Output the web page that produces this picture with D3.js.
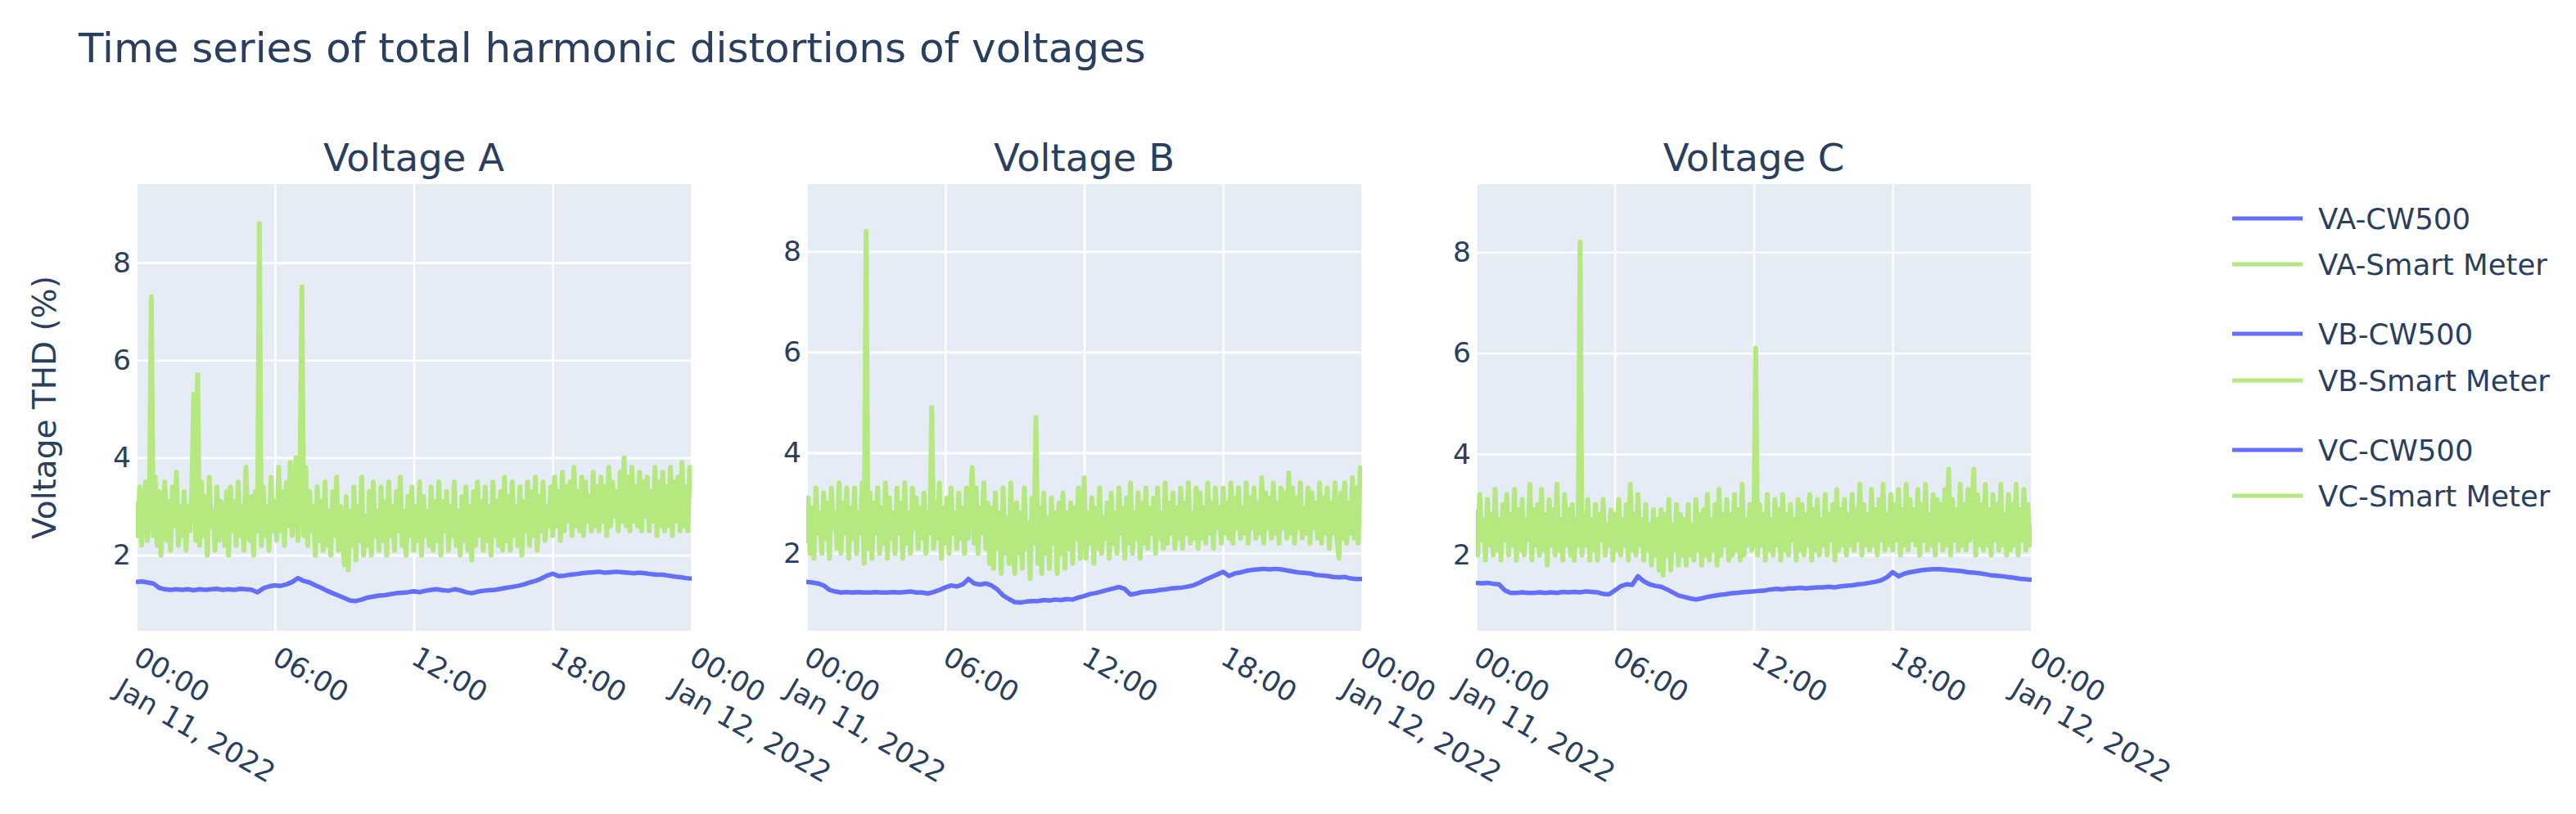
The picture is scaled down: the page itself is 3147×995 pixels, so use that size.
<!DOCTYPE html>
<html><head><meta charset="utf-8">
<script src="https://cdn.jsdelivr.net/npm/d3@7"></script>
<style>
body{margin:0;background:#fff}
svg text{font-family:Verdana,"DejaVu Sans",sans-serif;fill:#2a3f5f}
</style>
</head><body>
<svg id="chart" width="3147" height="995"></svg>
<script>
// ---------------- DATA ----------------
const chartTitle = "Time series of total harmonic distortions of voltages";
const panelTitles = ["Voltage A", "Voltage B", "Voltage C"];
const yAxisTitle = "Voltage THD (%)";
const legendNames = [["VA-CW500", "VA-Smart Meter"], ["VB-CW500", "VB-Smart Meter"], ["VC-CW500", "VC-Smart Meter"]];
const startTime = new Date(2022, 0, 11, 0, 0);
const endTime = new Date(2022, 0, 12, 0, 0);
const smStepMinutes = 5;   // Smart Meter sampling
const cwStepMinutes = 15;  // CW500 sampling
const xTickHours = [0, 6, 12, 18, 24];
const yTickValues = [2, 4, 6, 8];
const yRanges = [[0.45, 9.61], [0.46, 9.34], [0.5, 9.35]];

const cwA = [1.45,1.46,1.44,1.42, 1.33,1.30,1.29,1.30, 1.29,1.30,1.28,1.30, 1.29,1.30,1.31,1.29,
 1.30,1.29,1.31,1.30, 1.29,1.24,1.32,1.36, 1.38,1.37,1.40,1.45, 1.53,1.47,1.44,1.38,
 1.33,1.27,1.22,1.17, 1.12,1.07,1.06,1.09, 1.13,1.15,1.17,1.18, 1.20,1.22,1.23,1.24,
 1.26,1.24,1.27,1.29, 1.30,1.28,1.27,1.30, 1.28,1.24,1.22,1.25, 1.27,1.28,1.29,1.31,
 1.33,1.35,1.37,1.40, 1.44,1.47,1.52,1.58, 1.62,1.57,1.58,1.60, 1.61,1.63,1.64,1.65,
 1.66,1.64,1.65,1.66, 1.65,1.64,1.63,1.64, 1.63,1.61,1.60,1.60, 1.58,1.56,1.55,1.53, 1.52];
const cwB = [1.43,1.42,1.40,1.36, 1.27,1.24,1.22,1.23, 1.22,1.23,1.22,1.22, 1.23,1.22,1.22,1.23,
 1.22,1.23,1.24,1.22, 1.22,1.20,1.23,1.27, 1.32,1.36,1.34,1.38, 1.49,1.40,1.38,1.40,
 1.36,1.28,1.16,1.09, 1.03,1.02,1.04,1.05, 1.05,1.07,1.06,1.08, 1.07,1.09,1.08,1.12,
 1.15,1.19,1.21,1.24, 1.27,1.30,1.33,1.29, 1.18,1.20,1.23,1.24, 1.25,1.27,1.28,1.30,
 1.31,1.32,1.34,1.37, 1.42,1.48,1.53,1.58, 1.63,1.55,1.60,1.62, 1.65,1.67,1.68,1.69,
 1.68,1.69,1.68,1.66, 1.64,1.62,1.61,1.60, 1.57,1.56,1.55,1.53, 1.52,1.53,1.50,1.49, 1.49];
const cwC = [1.45,1.44,1.45,1.43, 1.42,1.30,1.25,1.25, 1.26,1.25,1.25,1.26, 1.25,1.26,1.25,1.27,
 1.26,1.27,1.26,1.28, 1.27,1.26,1.23,1.22, 1.30,1.38,1.42,1.41, 1.58,1.48,1.42,1.39,
 1.37,1.32,1.26,1.20, 1.17,1.14,1.12,1.14, 1.17,1.19,1.21,1.22, 1.24,1.25,1.26,1.27,
 1.28,1.29,1.30,1.32, 1.33,1.32,1.34,1.34, 1.35,1.34,1.35,1.36, 1.36,1.37,1.36,1.38,
 1.39,1.40,1.42,1.43, 1.45,1.47,1.50,1.56, 1.66,1.58,1.63,1.66, 1.68,1.70,1.71,1.72,
 1.72,1.71,1.70,1.69, 1.68,1.66,1.65,1.64, 1.62,1.60,1.59,1.58, 1.56,1.55,1.53,1.52, 1.51];

const smA = [3.1,2.4,3.4,2.2,2.9,3.5,2.3,3.0,7.3,2.4,3.6,2.2,
 3.3,2.0,2.9,3.5,2.3,3.1,2.1,3.4,2.6,3.7,2.2,3.0,
 2.4,3.3,2.1,3.0,2.5,3.4,5.3,2.3,5.7,2.2,3.5,2.4,
 3.2,2.0,3.6,2.6,2.9,2.1,3.4,2.3,3.1,2.7,2.2,3.3,
 2.0,3.4,2.5,3.1,2.2,3.5,2.4,3.0,2.1,3.8,2.6,2.3,
 3.2,2.0,3.3,2.5,8.8,2.2,3.4,2.4,3.0,2.1,3.6,2.5,
 3.1,2.3,3.8,2.5,3.3,2.2,3.5,2.6,3.9,2.4,3.2,4.0,
 2.3,3.4,7.5,2.4,3.8,2.2,3.3,2.5,3.0,2.0,3.4,2.3,
 3.1,2.1,3.5,2.2,2.9,2.0,3.3,2.4,3.6,2.1,3.0,2.3,
 1.8,3.2,1.7,2.9,2.2,3.4,1.9,3.0,2.3,3.6,2.0,2.8,
 2.2,3.3,2.0,3.5,2.4,2.9,2.1,3.4,2.3,3.1,2.0,3.5,
 2.4,3.0,2.1,3.3,2.5,3.6,2.2,2.9,2.0,3.2,2.4,3.4,
 2.1,3.0,2.3,3.5,2.0,3.2,2.4,2.9,2.2,3.4,2.1,3.1,
 2.3,3.5,2.0,3.1,2.5,3.3,2.1,3.0,2.4,3.5,2.2,2.9,
 2.0,3.2,2.3,3.4,2.1,3.0,1.9,3.3,2.2,3.5,2.4,3.1,
 2.1,3.4,2.3,3.0,2.0,3.5,2.4,3.1,2.2,3.3,2.1,3.6,
 2.3,3.2,2.1,3.5,2.4,3.0,2.2,3.4,2.0,3.1,2.5,3.5,
 2.2,3.3,2.4,3.6,2.1,3.2,2.5,3.5,2.3,3.0,2.6,3.4,
 2.4,3.6,2.6,3.3,2.3,3.7,2.5,3.4,2.7,3.5,2.4,3.8,
 2.6,3.3,2.5,3.6,2.4,3.5,2.7,3.2,2.5,3.7,2.6,3.4,
 2.5,3.6,2.7,3.4,2.4,3.8,2.6,3.5,2.8,3.3,2.5,3.7,
 2.7,4.0,2.6,3.6,2.5,3.8,2.7,3.4,2.6,3.7,2.5,3.5,
 2.8,3.6,2.5,3.3,2.7,3.8,2.4,3.5,2.6,3.7,2.5,3.4,
 2.6,3.8,2.4,3.5,2.7,3.6,2.5,3.9,2.6,3.4,2.5,3.8, 3.3];
const smB = [2.2,3.1,2.0,2.9,1.9,3.3,2.4,2.8,2.0,3.2,2.3,3.0,
 1.9,3.3,2.5,2.8,2.1,3.4,2.0,3.0,2.4,3.3,1.9,2.9,
 2.3,3.3,2.0,2.8,2.4,3.4,1.8,8.4,2.1,3.2,1.9,3.0,
 2.4,3.3,2.0,2.9,2.2,3.4,1.9,3.1,2.3,2.8,2.0,3.3,
 2.4,3.0,1.9,3.4,2.2,2.8,2.0,3.3,2.5,3.1,2.1,2.9,
 2.3,3.2,2.0,2.8,2.4,4.9,2.1,3.0,2.3,3.4,1.9,2.9,
 2.2,3.1,2.0,3.3,2.4,2.8,2.1,3.2,2.3,2.9,2.0,3.3,
 2.3,3.0,3.7,2.2,3.3,2.0,2.9,2.4,3.4,2.1,3.0,1.8,
 2.9,1.7,3.2,2.1,2.8,1.6,3.3,2.0,2.7,1.8,3.4,2.2,
 1.6,3.0,2.0,2.8,1.7,3.3,2.1,2.6,1.5,3.1,2.2,4.7,
 1.8,2.9,1.6,3.2,2.0,2.7,1.7,3.1,2.2,2.8,1.6,3.0,
 2.0,3.2,1.7,2.8,2.1,3.0,1.8,2.9,2.3,3.3,1.9,2.7,
 3.5,1.9,2.8,2.2,3.1,1.8,2.9,2.1,3.3,2.0,2.7,2.3,
 3.0,1.9,3.2,2.2,2.8,2.0,3.3,2.4,2.9,1.9,3.1,2.2,
 3.4,2.0,2.8,2.3,3.2,1.9,3.0,2.2,3.3,2.1,2.9,2.4,
 3.1,2.0,3.3,2.3,2.8,2.1,3.4,2.2,3.0,2.4,3.2,2.1,
 2.9,2.3,3.3,2.1,3.0,2.4,3.4,2.2,2.8,2.3,3.3,2.1,
 3.2,2.3,2.9,2.2,3.4,2.4,3.0,2.1,3.3,2.5,2.9,2.2,
 3.3,2.4,3.0,2.3,3.4,2.2,3.1,2.5,3.3,2.3,2.9,2.4,
 3.4,2.2,3.1,2.5,3.3,2.3,3.0,2.4,3.5,2.2,3.2,2.5,
 3.1,2.3,3.4,2.4,3.0,2.2,3.3,2.5,3.2,2.3,3.6,2.4,
 3.3,2.2,3.1,2.5,3.4,2.3,2.9,2.4,3.3,2.2,3.2,2.5,
 3.0,2.3,3.4,2.2,3.1,2.4,3.3,2.1,3.0,2.4,3.4,2.3,
 1.9,3.2,2.3,3.4,2.2,3.0,2.4,3.5,2.3,3.3,2.2,3.7, 3.2];
const smC = [2.9,2.0,3.2,2.3,2.7,1.9,3.1,2.2,2.8,2.0,3.3,2.1,
 2.7,1.9,3.0,2.3,3.2,2.0,2.8,2.2,3.3,1.9,2.9,2.1,
 3.1,2.0,2.7,2.3,3.4,1.9,2.9,2.2,3.0,2.0,3.3,2.1,
 2.8,1.8,3.1,2.2,2.9,2.0,3.4,2.1,2.7,1.9,3.2,2.2,
 2.9,2.0,3.0,1.9,2.7,2.2,8.2,2.0,2.8,2.2,3.1,1.9,
 2.7,2.1,3.0,1.9,2.8,2.3,3.1,2.0,2.6,2.2,2.9,1.9,
 2.8,2.1,3.1,2.0,2.7,2.2,3.0,1.9,3.4,2.1,2.8,2.0,
 3.2,2.2,2.7,1.9,3.0,2.1,2.6,1.8,2.9,2.0,2.7,1.7,
 2.9,1.6,2.8,2.0,3.1,1.7,2.6,2.1,3.0,1.8,2.8,2.0,
 2.7,1.8,3.0,2.0,2.6,1.9,3.1,2.1,2.8,1.8,2.9,2.0,
 3.2,1.9,2.7,2.1,3.0,1.8,3.3,2.0,2.8,2.2,3.1,1.9,
 2.8,2.0,3.2,2.1,2.9,1.9,3.4,2.0,2.7,2.2,3.0,2.1,
 2.3,6.1,2.0,3.0,2.2,2.8,1.9,3.2,2.1,2.7,2.0,3.1,
 2.2,2.9,1.9,3.2,2.1,2.8,2.0,3.0,2.3,2.7,1.9,3.1,
 2.1,3.0,2.0,2.8,2.2,3.2,1.9,2.9,2.1,3.1,2.0,2.7,
 2.2,3.2,2.0,2.8,2.3,3.0,1.9,3.3,2.1,2.9,2.2,3.1,
 2.0,2.8,2.2,3.2,2.1,2.9,2.3,3.4,2.0,3.0,2.2,2.8,
 2.1,3.3,2.2,2.9,2.0,3.1,2.3,3.4,2.1,2.8,2.2,3.2,
 2.1,3.0,2.3,3.3,2.0,2.9,2.2,3.4,2.1,3.1,2.3,2.9,
 2.2,3.3,2.0,3.0,2.3,3.4,2.1,2.8,2.2,3.2,2.0,3.1,
 2.3,3.0,2.1,3.3,2.2,3.7,2.0,3.1,2.3,2.9,2.1,3.4,
 2.2,3.0,2.1,3.3,2.3,2.9,3.7,2.0,3.2,2.2,3.0,2.1,
 3.4,2.2,2.9,2.0,3.2,2.3,3.0,2.1,3.4,2.2,2.8,2.0,
 3.2,2.1,3.0,2.2,3.4,2.0,2.9,2.3,3.3,2.1,3.0,2.2, 2.6];

const cwSeries = [cwA, cwB, cwC];
const smSeries = [smA, smB, smC];
const colors = {cw: "#636efa", sm: "#b6e880"};

// ---------------- LAYOUT ----------------
const svg = d3.select("#chart");
const plotTop = 225, plotBottom = 771;
const panelLefts = [166, 985, 1803];
const panelWidth = 679;
const tickFont = 34.5, legendFont = 35.5;

svg.append("text").attr("x", 96).attr("y", 76).attr("font-size", 50).text(chartTitle);

panelTitles.forEach((title, p) => {
  const left = panelLefts[p];
  const x = d3.scaleTime().domain([startTime, endTime]).range([left, left + panelWidth]);
  const y = d3.scaleLinear().domain(yRanges[p]).range([plotBottom, plotTop]);
  const g = svg.append("g");

  g.append("rect").attr("x", left).attr("y", plotTop).attr("width", panelWidth)
    .attr("height", plotBottom - plotTop).attr("fill", "#e5ecf6");

  const xTicks = xTickHours.map(h => d3.timeHour.offset(startTime, h));
  g.append("g").attr("transform", `translate(0,${plotBottom})`)
    .call(d3.axisBottom(x).tickValues(xTicks).tickSize(-(plotBottom - plotTop)).tickFormat(""))
    .call(a => a.select(".domain").remove())
    .call(a => a.selectAll("line").attr("stroke", "#fff").attr("stroke-width", 2.6));
  g.append("g").attr("transform", `translate(${left},0)`)
    .call(d3.axisLeft(y).tickValues(yTickValues).tickSize(-panelWidth).tickPadding(6).tickFormat(d3.format("d")))
    .call(a => a.select(".domain").remove())
    .call(a => a.selectAll("line").attr("stroke", "#fff").attr("stroke-width", 2.6))
    .call(a => a.selectAll("text").attr("font-size", tickFont).attr("fill", "#2a3f5f")
      .attr("font-family", 'Verdana,"DejaVu Sans",sans-serif'));

  const clipId = "clip" + p;
  svg.append("clipPath").attr("id", clipId).append("rect")
    .attr("x", left).attr("y", plotTop).attr("width", panelWidth).attr("height", plotBottom - plotTop);

  const cwLine = d3.line().x((d, i) => x(d3.timeMinute.offset(startTime, i * cwStepMinutes))).y(d => y(d));
  const smLine = d3.line().x((d, i) => x(d3.timeMinute.offset(startTime, i * smStepMinutes))).y(d => y(d));
  g.append("path").datum(cwSeries[p]).attr("d", cwLine).attr("fill", "none")
    .attr("stroke", colors.cw).attr("stroke-width", 5.5).attr("stroke-linejoin", "round")
    .attr("clip-path", `url(#${clipId})`);
  g.append("path").datum(smSeries[p]).attr("d", smLine).attr("fill", "none")
    .attr("stroke", colors.sm).attr("stroke-width", 6).attr("stroke-linejoin", "round")
    .attr("clip-path", `url(#${clipId})`);

  xTicks.forEach((t, k) => {
    const tx = x(t);
    const lbl = g.append("text").attr("font-size", tickFont)
      .attr("transform", `translate(${tx - 5},${810}) rotate(30)`);
    lbl.append("tspan").attr("x", 0).attr("y", 0).text(d3.timeFormat("%H:%M")(t));
    if (k === 0 || k === xTicks.length - 1)
      lbl.append("tspan").attr("x", 0).attr("dy", "1.3em").text(d3.timeFormat("%b %-d, %Y")(t));
  });

  g.append("text").attr("x", left + panelWidth / 2).attr("y", 209).attr("text-anchor", "middle")
    .attr("font-size", 46.5).text(title);
});

svg.append("text").attr("transform", `translate(68,${(plotTop + plotBottom) / 2}) rotate(-90)`)
  .attr("text-anchor", "middle").attr("font-size", 39).text(yAxisTitle);

const legendY = [[267, 323], [408, 465], [550, 606]];
legendNames.forEach((pair, p) => {
  pair.forEach((name, j) => {
    const cy = legendY[p][j];
    svg.append("line").attr("x1", 2727).attr("x2", 2813).attr("y1", cy).attr("y2", cy)
      .attr("stroke", j === 0 ? colors.cw : colors.sm).attr("stroke-width", 5);
    svg.append("text").attr("x", 2832).attr("y", cy + 12.5).attr("font-size", legendFont).text(name);
  });
});
</script>
</body></html>
